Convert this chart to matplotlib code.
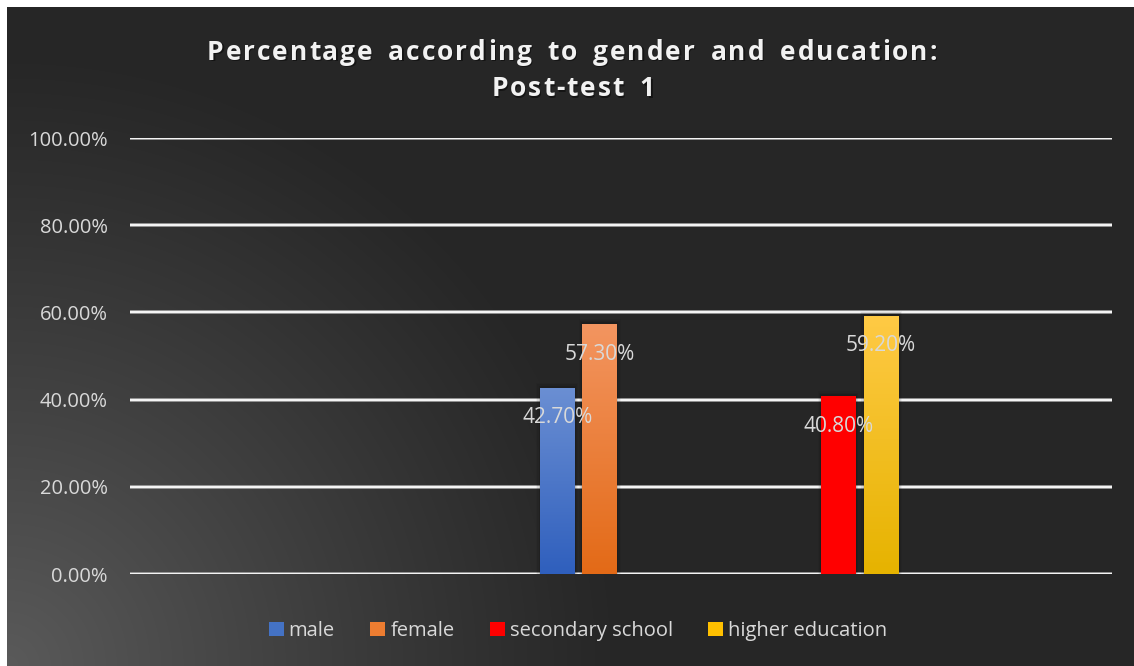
import numpy as np
import matplotlib
matplotlib.use("Agg")
import matplotlib.pyplot as plt
from matplotlib.patches import Rectangle
from matplotlib.colors import LinearSegmentedColormap
from matplotlib.textpath import TextToPath
from matplotlib.font_manager import FontProperties

# ---- data ----
categories = ["", "", "gender", "education", ""]
series_names = ["male", "female", "secondary school", "higher education"]
male = [np.nan, np.nan, 42.7, np.nan, np.nan]
female = [np.nan, np.nan, 57.3, np.nan, np.nan]
secondary = [np.nan, np.nan, np.nan, 40.8, np.nan]
higher = [np.nan, np.nan, np.nan, 59.2, np.nan]
yticks = [0, 20, 40, 60, 80, 100]
title_lines = ["Percentage according to gender and education:", "Post-test 1"]

series = [male, female, secondary, higher]
grad_top = ["#6b8fd3", "#f39560", "#ff0000", "#ffca45"]
grad_bot = ["#2f5fbd", "#e36a17", "#ff0000", "#e6b300"]
legend_cols = ["#4472c4", "#ed7d31", "#ff0000", "#ffc000"]

W, H = 1134, 666
fig = plt.figure(figsize=(W / 100, H / 100), dpi=100)
fig.patch.set_facecolor("white")

# background gradient (chart area)
x0 = 7
bg = fig.add_axes([x0 / W, 0, (W - x0) / W, (H - 7) / H])
bg.set_axis_off()
yy, xx = np.mgrid[0:H - 7, 0:W - x0]
d = np.sqrt(xx ** 2 + ((H - 7) - yy) ** 2)
t = np.clip(1 - d / 620.0, 0, 1) ** 1.1
dark = np.array([0x26, 0x26, 0x26]) / 255
light = np.array([0x5a, 0x5a, 0x5a]) / 255
img = dark[None, None, :] + (light - dark)[None, None, :] * t[..., None]
bg.imshow(img, aspect="auto", extent=[0, 1, 0, 1], origin="upper")
bg.set_xlim(0, 1); bg.set_ylim(0, 1)

# main axes
left, right = 130, 1112
ybot, ytop = 574, 138
ax = fig.add_axes([left / W, (H - ybot) / H, (right - left) / W, (ybot - ytop) / H])
ax.set_facecolor("none")
ax.set_xlim(-0.5, len(categories) - 0.5)
ax.set_ylim(0, 100)
for s in ax.spines.values():
    s.set_visible(False)
ax.tick_params(length=0)
ax.set_xticks([])
ax.set_yticks(yticks)
ax.set_yticklabels([f"{v:.2f}%" for v in yticks], color="#d9d9d9",
                   fontsize=14.5, family="Open Sans")
ax.tick_params(axis="y", pad=16)
for v in yticks:
    ax.axhline(v, color="#9a9a9a", lw=2.6, zorder=1)
    ax.axhline(v, color="#f4f4f4", lw=1.6, zorder=1)

slot_w = 0.2165
bar_w = 0.178
for si, vals in enumerate(series):
    cmap = LinearSegmentedColormap.from_list("g", [grad_bot[si], grad_top[si]])
    for ci, v in enumerate(vals):
        if np.isnan(v):
            continue
        xc = ci + (si - 1.5) * slot_w
        for k, a in enumerate([0.10, 0.07, 0.04]):
            sh = Rectangle((xc - bar_w / 2 - 0.006 * (k + 1), 0), bar_w + 0.012 * (k + 1), v + 0.4 * (k + 1),
                           facecolor="black", alpha=a, edgecolor="none", zorder=2)
            ax.add_patch(sh)
        rect = Rectangle((xc - bar_w / 2, 0), bar_w, v, facecolor="none", edgecolor="none", zorder=3)
        ax.add_patch(rect)
        grad = np.linspace(0, 1, 256)[:, None]
        im = ax.imshow(grad, cmap=cmap, aspect="auto", origin="lower",
                       extent=[xc - bar_w / 2, xc + bar_w / 2, 0, v], zorder=3)
        im.set_clip_path(rect)
        ax.text(xc, v - 6.9, f"{v:.2f}%", ha="center", va="center", color="#d9d9d9",
                fontsize=15, family="Open Sans", zorder=5)
ax.set_xlim(-0.5, len(categories) - 0.5)
ax.set_ylim(0, 100)

# title with letter spacing (drawn char by char)
fp = FontProperties(family="Open Sans", weight="bold", size=19)
t2p = TextToPath()
px_per_pt = 100 / 72.0

def adv(s):
    w, h, dsc = t2p.get_text_width_height_descent(s, fp, ismath=False)
    return w * px_per_pt

def spaced_line(text, cx, cy, track=1.9, space_extra=7.0):
    widths = []
    for ch in text:
        if ch == " ":
            widths.append(adv("a a") - adv("aa") + space_extra)
        else:
            widths.append(adv(ch) + track)
    total = sum(widths) - track
    x = cx - total / 2
    for ch, w in zip(text, widths):
        if ch != " ":
            fig.text((x + 1.2) / W, 1 - (cy + 1.5) / H, ch, ha="left", va="center",
                     color="black", alpha=0.45, fontproperties=fp)
            fig.text(x / W, 1 - cy / H, ch, ha="left", va="center",
                     color="#f2f2f2", fontproperties=fp)
        x += w

spaced_line(title_lines[0], 572, 52)
spaced_line(title_lines[1], 573, 89)

handles = [Rectangle((0, 0), 1, 1, facecolor=c, edgecolor="none") for c in legend_cols]
leg = fig.legend(handles, series_names, loc="center", bbox_to_anchor=(578 / W, 1 - 631 / H),
                 ncol=4, frameon=False, handlelength=0.75, handleheight=0.75, handletextpad=0.25,
                 columnspacing=1.75, prop={"family": "Open Sans", "size": 14.5})
for tx in leg.get_texts():
    tx.set_color("#d9d9d9")

fig.savefig("out.png", dpi=100, facecolor=fig.get_facecolor())
